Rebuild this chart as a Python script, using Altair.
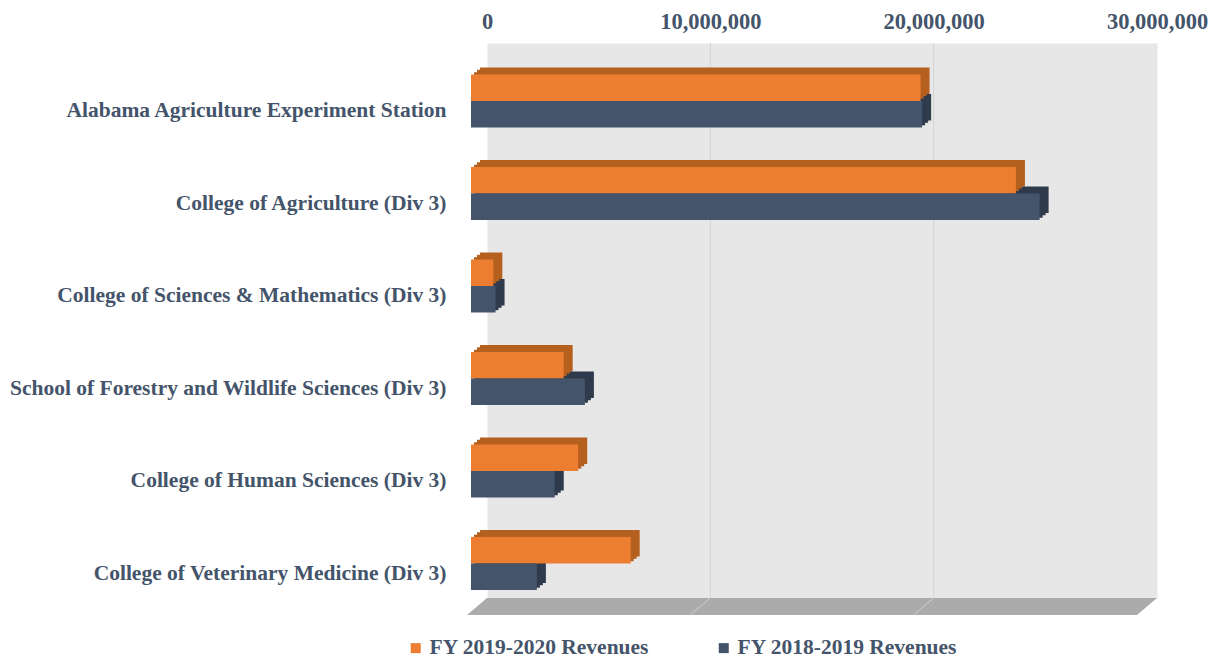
import altair as alt
import pandas as pd

# ---------------- data ----------------
categories = [
    "Alabama Agriculture Experiment Station",
    "College of Agriculture (Div 3)",
    "College of Sciences & Mathematics (Div 3)",
    "School of Forestry and Wildlife Sciences (Div 3)",
    "College of Human Sciences (Div 3)",
    "College of Veterinary Medicine (Div 3)",
]
series_names = ["FY 2019-2020 Revenues", "FY 2018-2019 Revenues"]
fy_2019_2020 = [20_130_000, 24_400_000, 1_000_000, 4_150_000, 4_800_000, 7_150_000]
fy_2018_2019 = [20_200_000, 25_460_000, 1_100_000, 5_100_000, 3_750_000, 2_950_000]
x_ticks = [0, 10_000_000, 20_000_000, 30_000_000]
grid_values = [10_000_000, 20_000_000]

# ---------------- styling ----------------
front_colors = ["#ED7D31", "#44546A"]
side_colors = ["#B5601F", "#2F3B4C"]
FONT = "Liberation Serif"
TEXT = "#44546A"
W, H = 670, 555
DX_FRONT = -16      # bars' front face sits in front of (left of) the back wall
Y_FRONT = 11.75     # and below it
DEPTH_X, DEPTH_Y = 9, 7
STEPS = 3
FLOOR_DX, FLOOR_DY = 20, 17

rows = []
for i, c in enumerate(categories):
    rows.append({"category": c, "series": series_names[0], "value": fy_2019_2020[i]})
    rows.append({"category": c, "series": series_names[1], "value": fy_2018_2019[i]})
bars = pd.DataFrame(rows)
grid = pd.DataFrame({"g": grid_values})

xscale = alt.Scale(domain=[x_ticks[0], x_ticks[-1]], nice=False, zero=True)
xaxis = alt.Axis(orient="top", values=x_ticks, format=",d", labelFlush=False,
                 labelFont=FONT, labelFontSize=22.5, labelFontWeight="bold",
                 labelColor=TEXT, labelPadding=10, ticks=False, tickSize=0,
                 domain=False, grid=False, title=None)
yaxis = alt.Axis(orient="left", labelFont=FONT, labelFontSize=21.5, labelFontWeight="bold",
                 labelColor=TEXT, labelPadding=41, labelOffset=10, labelLimit=600,
                 ticks=False, tickSize=0, domain=False, title=None)
legend = alt.Legend(orient="none", legendX=-82, legendY=594, direction="horizontal",
                    title=None, symbolType="square", symbolSize=100, symbolStrokeWidth=0,
                    labelFont=FONT, labelFontSize=21.5, labelFontWeight="bold",
                    labelColor=TEXT, labelOffset=3, columnPadding=63, labelLimit=400,
                    padding=0)


def yscale(shift):
    return alt.Scale(domain=categories, range=[shift, shift + H],
                     paddingInner=0.427, paddingOuter=0.2135)


def bar_layer(sx, sy, colors, ax=None, leg=None):
    return alt.Chart(bars).mark_bar(xOffset=sx, x2Offset=sx).encode(
        x=alt.X("value:Q", scale=xscale, axis=xaxis),
        x2=alt.datum(0),
        y=alt.Y("category:N", scale=yscale(Y_FRONT + sy), axis=ax),
        yOffset=alt.YOffset("series:N", scale=alt.Scale(domain=series_names)),
        color=alt.Color("series:N", scale=alt.Scale(domain=series_names, range=colors),
                        legend=leg),
    )


# back-wall gridlines
wall_grid = alt.Chart(grid).mark_rule(color="#D2D2D2", strokeWidth=1).encode(
    x=alt.X("g:Q", scale=xscale, axis=xaxis),
    y=alt.value(0),
    y2=alt.value(H),
)

# floor (parallelogram drawn as a custom symbol)
hw = (W + FLOOR_DX) / 2
a = FLOOR_DX / hw
hy = FLOOR_DY / 2 / hw
floor_path = f"M {-1 + a:.4f} {-hy:.4f} L 1 {-hy:.4f} L {1 - a:.4f} {hy:.4f} L -1 {hy:.4f} Z"
floor = alt.Chart(pd.DataFrame({"k": [0]})).mark_point(
    shape=floor_path, size=(2 * hw) ** 2, filled=True, color="#ABABAB",
    opacity=1, strokeWidth=0
).encode(
    x=alt.value(W / 2 - FLOOR_DX / 2),
    y=alt.value(H + FLOOR_DY / 2),
)
floor_lines = alt.Chart(grid).mark_rule(color="#CDCDCD", strokeWidth=1,
                                        x2Offset=-FLOOR_DX).encode(
    x=alt.X("g:Q", scale=xscale, axis=xaxis),
    x2=alt.X2("g:Q"),
    y=alt.value(H),
    y2=alt.value(H + FLOOR_DY),
)

layers = [wall_grid, floor, floor_lines]
for k in range(STEPS, 0, -1):
    layers.append(bar_layer(DX_FRONT + DEPTH_X * k / STEPS, -DEPTH_Y * k / STEPS, side_colors))
layers.append(bar_layer(DX_FRONT, 0, front_colors, ax=yaxis, leg=legend))

chart = alt.layer(*layers).resolve_scale(
    y="independent", yOffset="independent", color="independent"
).properties(
    width=W, height=H,
    autosize=alt.AutoSizeParams(type="none"),
    padding={"left": 479, "top": 35, "right": 52, "bottom": 64},
).configure_view(fill="#E7E7E7", stroke="transparent")

chart.save("out.html", embed_options={"renderer": "svg", "actions": False})
